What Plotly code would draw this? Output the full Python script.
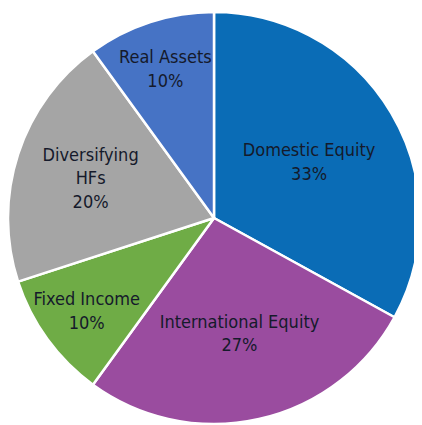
import plotly.graph_objects as go

labels = ["Domestic Equity", "International Equity", "Fixed Income", "Diversifying HFs", "Real Assets"]
display_labels = ["Domestic Equity", "International Equity", "Fixed Income", "Diversifying<br>HFs", "Real Assets"]
values = [33, 27, 10, 20, 10]
colors = ["#0A6CB6", "#9A4C9F", "#6FAC46", "#A5A5A5", "#4673C5"]

W, H = 414, 417
fig = go.Figure(go.Pie(
    labels=labels,
    values=values,
    text=display_labels,
    texttemplate="%{text}<br>%{percent:.0%}",
    textposition="inside",
    insidetextorientation="horizontal",
    sort=False,
    direction="clockwise",
    rotation=0,
    marker=dict(colors=colors, line=dict(color="white", width=2.5)),
    textfont=dict(family="DejaVu Sans Condensed, Roboto Condensed, Roboto", size=18, color="#151a2b"),
    domain=dict(x=[0, 412/W], y=[1/H, 1 - 4/H]),
    showlegend=False,
    hoverinfo="label+percent",
))
fig.update_layout(
    width=W, height=H,
    margin=dict(l=0, r=0, t=0, b=0),
    paper_bgcolor="white",
    uniformtext=dict(minsize=18, mode="show"),
)
fig.write_html("out.html")
